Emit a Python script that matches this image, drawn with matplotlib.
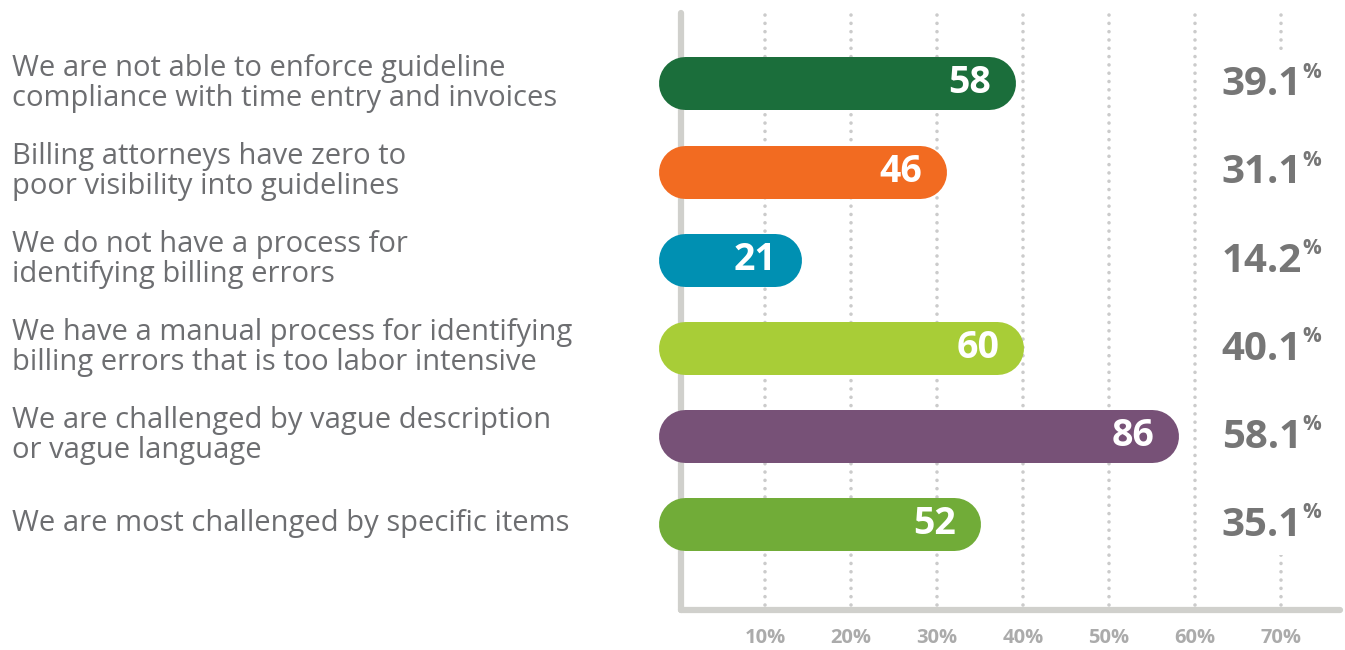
import matplotlib
matplotlib.use("Agg")
import matplotlib.pyplot as plt
from matplotlib.transforms import blended_transform_factory
from matplotlib.patches import Rectangle

categories = [
    "We are not able to enforce guideline\ncompliance with time entry and invoices",
    "Billing attorneys have zero to\npoor visibility into guidelines",
    "We do not have a process for\nidentifying billing errors",
    "We have a manual process for identifying\nbilling errors that is too labor intensive",
    "We are challenged by vague description\nor vague language",
    "We are most challenged by specific items",
]
counts = [58, 46, 21, 60, 86, 52]
percents = [39.1, 31.1, 14.2, 40.1, 58.1, 35.1]
bar_colors = ["#1b6e3b", "#f26b21", "#0090b2", "#a8cd37", "#775177", "#71ac38"]
tick_values = [10, 20, 30, 40, 50, 60, 70]
tick_labels = ["10%", "20%", "30%", "40%", "50%", "60%", "70%"]

FONT = "Open Sans"
W, H, DPI = 1345, 650, 100
fig = plt.figure(figsize=(W / DPI, H / DPI), dpi=DPI)
fig.patch.set_facecolor("white")

px_unit = 8.6            # pixels per percent
x0_px, xr_px = 679, 1345
ybot_px = 610
ax = fig.add_axes([x0_px / W, (H - ybot_px) / H, (xr_px - x0_px) / W, ybot_px / H])
ax.set_facecolor("none")
ax.set_xlim(0, (xr_px - x0_px) / px_unit)
c0, step = 83.5, 88.1
ax.set_ylim((ybot_px - c0) / step, -c0 / step)
for s in ax.spines.values():
    s.set_visible(False)
ax.set_yticks([])
ax.set_xticks(tick_values)
ax.set_xticklabels(tick_labels, fontsize=14.5, fontweight="bold", color="#ababab", family=FONT)
ax.tick_params(axis="x", length=0, pad=13)

# dotted gridlines
for t in tick_values:
    ax.axvline(t, ymin=0.008, ymax=0.975, color="#cbcbcb", lw=2.6,
               linestyle=(0, (0.001, 2.3)), dash_capstyle="round", zorder=1)

# axis lines
ax_px_w = xr_px - x0_px
ax.plot([2 / ax_px_w, 2 / ax_px_w], [0, (ybot_px - 13) / ybot_px], transform=ax.transAxes,
        color="#d0d0cc", lw=4.5, solid_capstyle="round", clip_on=False, zorder=2)
ax.plot([2 / ax_px_w, (1340 - x0_px) / ax_px_w], [0, 0], transform=ax.transAxes,
        color="#d0d0cc", lw=4.5, solid_capstyle="round", clip_on=False, zorder=2)

# white panel behind percent labels
ax.add_patch(Rectangle(((1207 - x0_px) / px_unit, -0.38), (1342 - 1207) / px_unit, 5.73,
                       facecolor="white", edgecolor="none", zorder=3))

bar_h_px = 53
radius = bar_h_px / 2 / px_unit
lw_pt = bar_h_px * 72 / DPI
left_center = -21 / px_unit + radius

for i, (cnt, pct, col) in enumerate(zip(counts, percents, bar_colors)):
    ax.plot([left_center, pct - radius], [i, i], color=col, lw=lw_pt,
            solid_capstyle="round", zorder=4, clip_on=False)
    ax.annotate(str(cnt), (pct, i), xytext=(-17.5, 0), textcoords="offset points",
                ha="right", va="center", color="white", fontsize=27,
                fontweight="bold", family=FONT, zorder=5)
    xp = (1302 - x0_px) / px_unit
    ax.annotate(f"{pct:.1f}", (xp, i), xytext=(0, -1), textcoords="offset points",
                ha="right", va="center", color="#767676", fontsize=29,
                fontweight="bold", family=FONT, zorder=5)
    ax.annotate("%", (xp, i), xytext=(0.5, 8), textcoords="offset points",
                ha="left", va="center", color="#767676", fontsize=15,
                fontweight="bold", family=FONT, zorder=5)

lab_tr = blended_transform_factory(fig.transFigure, ax.transData)
for i, cat in enumerate(categories):
    ax.text(12 / W, i, cat, transform=lab_tr, ha="left", va="center",
            fontsize=21, color="#6d6e71", family=FONT, linespacing=1.05,
            clip_on=False)

fig.savefig("out.png", dpi=DPI, facecolor="white")
